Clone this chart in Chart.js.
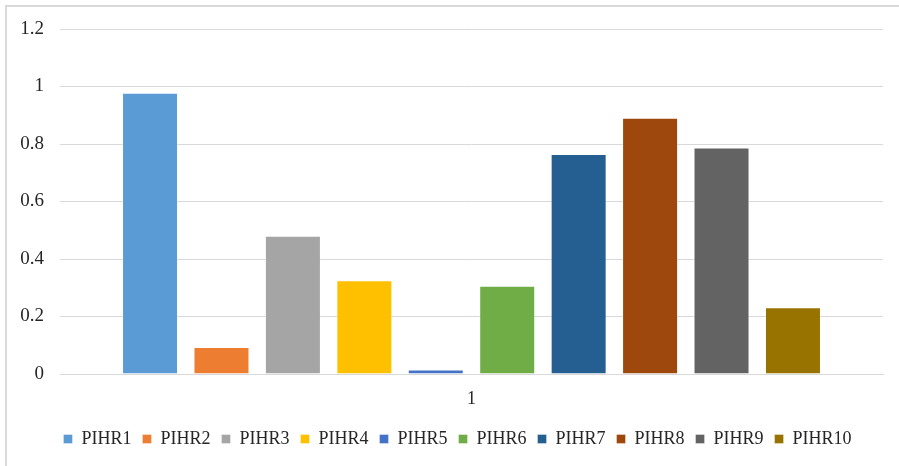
<!DOCTYPE html>
<html>
<head>
<meta charset="utf-8">
<script src="https://cdn.jsdelivr.net/npm/chart.js@4/dist/chart.umd.min.js"></script>
<style>
  html, body { margin: 0; padding: 0; background: #ffffff; overflow: hidden; }
  #wrap { position: relative; width: 899px; height: 466px; overflow: hidden; }
  #frame { position: absolute; left: 5px; top: 5px; width: 1000px; height: 1000px;
           border: 2px solid #d9d9d9; box-sizing: border-box; }
  #c { position: absolute; left: 0; top: 0; }
</style>
</head>
<body>
<div id="wrap">
  <div id="frame"></div>
  <canvas id="c" width="899" height="466"></canvas>
</div>
<script>
const categories = ['1'];
const seriesNames = ['PIHR1','PIHR2','PIHR3','PIHR4','PIHR5','PIHR6','PIHR7','PIHR8','PIHR9','PIHR10'];
const seriesValues = [0.978, 0.094, 0.481, 0.326, 0.016, 0.307, 0.765, 0.891, 0.788, 0.232];
const seriesColors = ['#5B9BD5','#ED7D31','#A5A5A5','#FFC000','#4472C4','#70AD47','#255E91','#9E480E','#636363','#997300'];
const yTickLabels = ['0','0.2','0.4','0.6','0.8','1','1.2'];

const FONT = "'Liberation Serif', 'Times New Roman', serif";
const TEXT = '#262626';

const datasets = seriesNames.map((name, i) => ({
  label: name,
  data: [seriesValues[i]],
  backgroundColor: seriesColors[i],
  borderColor: 'rgba(255,255,255,0.35)',
  borderWidth: 1,
  barPercentage: 0.784,
  categoryPercentage: 0.868
}));

const legendShift = {
  id: 'legendShift',
  afterLayout(chart) {
    if (chart.legend) {
      chart.legend.left += 16;
      chart.legend.right += 16;
    }
  }
};

new Chart(document.getElementById('c'), {
  type: 'bar',
  data: { labels: categories, datasets },
  plugins: [legendShift],
  options: {
    responsive: false,
    animation: false,
    devicePixelRatio: 1,
    layout: { padding: { left: 0, right: 16, top: 29, bottom: 8 } },
    scales: {
      x: {
        grid: { display: false, drawTicks: false },
        border: { display: true, color: '#d9d9d9', width: 1 },
        ticks: { color: TEXT, font: { family: FONT, size: 18 }, padding: 14 },
        afterFit: s => { s.height = 45; }
      },
      y: {
        min: 0, max: 1.2,
        grid: { color: '#d9d9d9', lineWidth: 1, drawTicks: false },
        border: { display: false },
        ticks: {
          stepSize: 0.2,
          color: TEXT,
          font: { family: FONT, size: 19 },
          padding: 16,
          callback: (v, i) => yTickLabels[i]
        },
        afterFit: s => { s.width = 60; }
      }
    },
    plugins: {
      legend: {
        position: 'bottom',
        labels: {
          color: TEXT,
          font: { family: FONT, size: 18 },
          boxWidth: 9,
          boxHeight: 9,
          padding: 11
        }
      },
      tooltip: { enabled: false }
    }
  }
});
</script>
</body>
</html>
